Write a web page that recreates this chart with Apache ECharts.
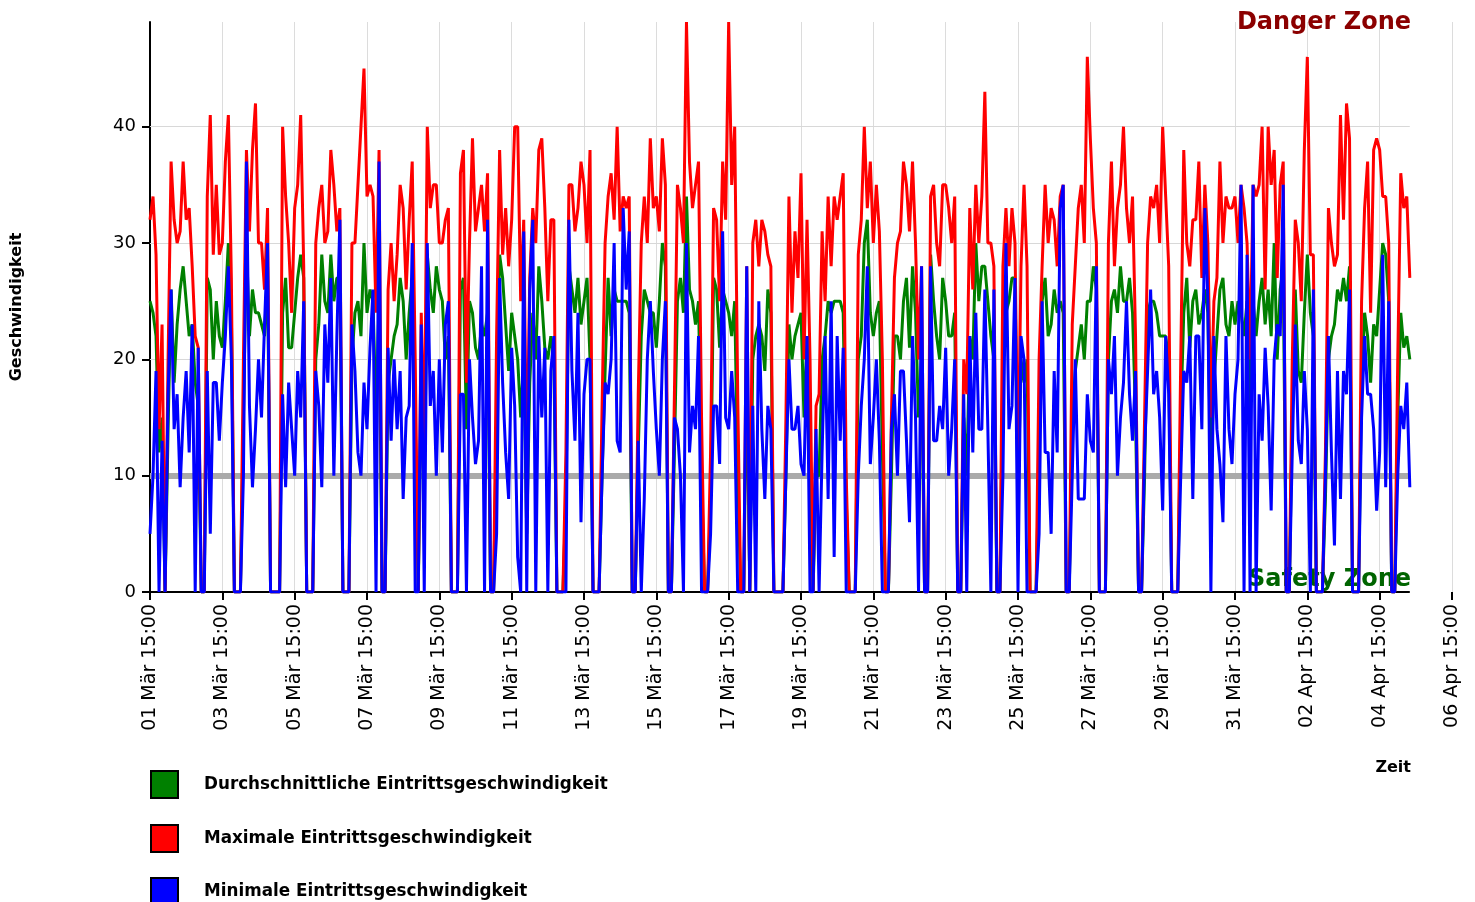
<!DOCTYPE html>
<html><head><meta charset="utf-8">
<script src="https://cdn.jsdelivr.net/npm/echarts@6/dist/echarts.min.js"></script>
<style>html,body{margin:0;padding:0;background:#fff}#chart{width:1475px;height:902px}</style>
</head><body><div id="chart"></div>
<script>
// Time axis: hours since 01 Mär 15:00, one value every 2 hours
const startUTC = Date.UTC(2021, 2, 1, 15, 0);
const stepHours = 2;
const tickHours = 48;
const axisEndHours = 864;
const monthNames = ['Jan','Feb','Mär','Apr','Mai','Jun','Jul','Aug','Sep','Okt','Nov','Dez'];
const seriesNames = ['Durchschnittliche Eintrittsgeschwindigkeit','Maximale Eintrittsgeschwindigkeit','Minimale Eintrittsgeschwindigkeit'];
const yTicks = [0, 10, 20, 30, 40];
const yMax = 49;
const safetyLevel = 10;
const gridLevels = [20, 30, 40];

const avgSpeed = [
25,24,22,12,15,0,14,26,18,23,
26,28,25,22,23,18,16,0,0,27,
26,20,25,22,21,25,30,24,0,0,
0,15,30,22,26,24,24,23,22,28,
0,0,0,0,24,27,21,21,24,27,
29,27,0,0,0,20,23,29,25,24,
29,25,27,27,0,0,0,20,24,25,
22,30,24,26,25,15,25,0,0,18,
20,22,23,27,25,20,24,27,15,0,
18,8,29,26,24,28,26,25,20,22,
0,0,0,26,27,14,25,24,21,20,
23,22,24,0,0,15,29,27,23,19,
24,22,20,15,20,5,18,24,20,28,
25,21,20,22,20,0,0,0,8,28,
26,24,27,23,25,27,20,0,0,0,
10,19,27,22,26,25,25,25,25,24,
0,0,12,22,26,25,24,24,21,25,
30,28,0,0,12,25,27,24,34,26,
25,23,25,10,0,0,8,27,26,21,
26,25,24,22,25,10,0,0,20,0,
20,22,23,22,19,26,24,0,0,0,
0,10,23,20,22,23,24,15,22,12,
0,10,10,20,22,25,24,25,25,25,
24,8,0,0,0,20,22,30,32,24,
22,24,25,12,0,0,10,22,22,20,
25,27,21,28,24,15,20,0,0,29,
25,22,20,27,25,22,22,24,0,0,
15,10,22,20,30,25,28,28,25,22,
20,0,0,20,24,25,27,27,8,20,
18,20,0,0,0,12,25,27,22,23,
26,24,25,24,0,0,15,19,21,23,
20,25,25,28,26,0,0,0,20,25,
26,24,28,25,25,27,24,15,0,0,
10,24,25,25,24,22,22,22,20,0,
0,0,15,24,27,21,25,26,23,24,
26,24,10,18,22,26,27,23,22,25,
23,25,24,22,25,15,25,22,25,27,
23,26,22,30,20,26,28,0,0,15,
26,19,18,24,29,24,22,0,0,0,
8,20,22,23,26,25,27,25,28,0,
0,0,18,24,22,18,23,22,26,30,
29,25,0,0,15,24,21,22,20
];

const maxSpeed = [
32,34,29,14,23,0,20,37,32,30,
31,37,32,33,28,22,21,0,0,34,
41,29,35,29,30,37,41,27,0,0,
0,20,38,31,38,42,30,30,26,33,
0,0,0,0,40,34,30,24,33,35,
41,28,0,0,0,30,33,35,30,31,
38,35,31,33,0,0,0,30,30,35,
40,45,34,35,34,24,38,0,0,26,
30,25,29,35,33,26,32,37,20,0,
24,12,40,33,35,35,30,30,32,33,
0,0,0,36,38,18,30,39,31,33,
35,31,36,0,0,22,38,29,33,28,
32,40,40,25,32,10,27,33,30,38,
39,33,25,32,32,0,0,0,12,35,
35,31,33,37,35,30,38,0,0,0,
16,30,34,36,32,40,31,34,33,34,
0,0,17,30,34,30,39,33,34,31,
39,35,0,0,17,35,33,30,49,37,
33,35,37,15,0,0,12,33,32,25,
37,32,49,35,40,17,0,0,28,0,
30,32,28,32,31,29,28,0,0,0,
0,15,34,24,31,27,36,20,32,20,
0,16,17,31,25,34,28,34,32,34,
36,10,0,0,0,29,32,40,33,37,
30,35,31,20,0,0,15,27,30,31,
37,35,31,37,30,20,28,0,0,34,
35,30,28,35,35,33,30,34,0,0,
20,17,33,26,35,30,34,43,30,30,
28,0,0,28,33,28,33,30,10,28,
35,28,0,0,0,20,28,35,30,33,
32,28,34,35,0,0,23,28,33,35,
30,46,39,33,30,0,0,0,30,37,
28,33,35,40,33,30,34,22,0,0,
15,30,34,33,35,30,40,34,28,0,
0,0,20,38,30,28,32,32,37,27,
35,30,15,25,27,37,30,34,33,33,
34,30,35,33,30,20,35,34,35,40,
26,40,35,38,27,35,37,0,0,20,
32,30,25,38,46,29,29,0,0,0,
12,33,30,28,29,41,32,42,39,0,
0,0,25,33,37,24,38,39,38,34,
34,30,0,0,20,36,33,34,27
];

const minSpeed = [
5,10,19,0,13,0,17,26,14,17,
9,15,19,12,23,0,21,0,0,19,
5,18,18,13,18,22,28,20,0,0,
0,10,37,16,9,14,20,15,23,30,
0,0,0,0,17,9,18,14,10,19,
15,25,0,0,0,19,16,9,23,18,
27,10,22,32,0,0,0,23,19,12,
10,18,14,21,26,0,37,0,0,21,
13,20,14,19,8,15,16,30,0,0,
23,0,30,16,19,10,20,12,23,25,
0,0,0,17,17,0,20,15,11,13,
28,0,32,0,0,5,27,18,12,8,
21,16,3,0,31,0,26,32,0,22,
15,21,0,19,22,0,0,0,0,32,
19,13,24,6,17,20,20,0,0,0,
10,18,17,20,30,13,12,33,26,31,
0,0,13,0,8,20,25,19,14,10,
20,25,0,0,15,14,10,0,30,12,
16,14,22,0,0,0,5,16,16,11,
31,15,14,19,15,0,0,0,28,0,
16,0,25,14,8,16,14,0,0,0,
0,10,20,14,14,16,11,10,22,0,
0,14,0,12,22,8,25,3,22,13,
21,0,0,0,0,10,16,20,28,11,
15,20,13,0,0,0,14,17,10,19,
19,13,6,22,15,0,28,0,0,28,
13,13,16,14,21,10,14,20,0,0,
17,0,22,12,24,14,14,26,14,0,
26,0,0,10,30,14,16,27,0,22,
20,0,0,0,0,5,25,12,12,5,
19,12,33,35,0,0,10,20,8,8,
8,17,13,12,28,0,0,0,20,17,
22,10,15,18,25,17,13,19,0,0,
12,19,26,17,19,15,7,22,17,0,
0,0,10,19,18,22,8,22,22,14,
33,25,0,22,14,11,6,22,14,11,
17,20,35,0,29,0,35,0,17,13,
21,16,7,20,23,22,35,0,0,12,
23,13,11,19,14,0,26,0,0,0,
10,22,12,4,19,8,19,17,26,0,
0,0,15,22,17,17,14,7,12,29,
9,25,0,0,10,16,14,18,9
];

const FONT = 'DejaVu Sans';
const lastHour = (avgSpeed.length - 1) * stepHours;
function toPairs(arr) { return arr.map((v, i) => [i * stepHours, v]); }
function fmtTime(h) {
  const d = new Date(startUTC + h * 3600000);
  const p = n => String(n).padStart(2, '0');
  return p(d.getUTCDate()) + ' ' + monthNames[d.getUTCMonth()] + ' ' + p(d.getUTCHours()) + ':' + p(d.getUTCMinutes());
}
function hLine(v, style) {
  return [{ coord: [0, v], lineStyle: style }, { coord: [lastHour, v] }];
}

const markData = gridLevels.map(v => hLine(v, { color: '#d8d8d8', width: 1, type: 'solid' }));
markData.push(hLine(safetyLevel, { color: '#aaaaaa', width: 6, type: 'solid' }));
markData.push(hLine(0, { color: '#000000', width: 2, type: 'solid' }));

const colors = ['#008000', '#ff0000', '#0000ff'];
const values = [avgSpeed, maxSpeed, minSpeed];
const legendTops = [770, 824, 877];

const chart = echarts.init(document.getElementById('chart'), null, { renderer: 'canvas' });
chart.setOption({
  animation: false,
  backgroundColor: '#ffffff',
  textStyle: { fontFamily: FONT },
  grid: { left: 150, right: 23, top: 22, bottom: 310, containLabel: false },
  xAxis: {
    type: 'value', min: 0, max: axisEndHours, interval: tickHours,
    axisLine: { show: false },
    axisTick: { show: true, length: 8, lineStyle: { color: '#000', width: 2 } },
    axisLabel: { rotate: 90, margin: 12, color: '#000', fontSize: 19, fontFamily: FONT, formatter: fmtTime },
    splitLine: { show: true, lineStyle: { color: '#dcdcdc', width: 1 } }
  },
  yAxis: {
    type: 'value', min: 0, max: yMax, interval: 10,
    axisLine: { show: true, lineStyle: { color: '#000', width: 2 } },
    axisTick: { show: true, length: 8, customValues: yTicks, lineStyle: { color: '#000', width: 2 } },
    axisLabel: { customValues: yTicks, margin: 14, color: '#000', fontSize: 18, fontFamily: FONT },
    splitLine: { show: false }
  },
  legend: seriesNames.map((n, k) => ({
    data: [n], orient: 'vertical', left: 150, top: legendTops[k], padding: 0,
    itemWidth: 27, itemHeight: 27, icon: 'rect',
    itemStyle: { borderColor: '#000', borderWidth: 2 },
    textStyle: { color: '#000', fontSize: 16.8, fontWeight: 'bold', fontFamily: FONT, padding: [0, 0, 0, 21] },
    selectedMode: false
  })),
  graphic: [
    { type: 'text', right: 64, top: 11, style: { text: 'Danger Zone', fill: '#8b0000', font: 'bold 24px "DejaVu Sans"' } },
    { type: 'text', right: 64, top: 568, style: { text: 'Safety Zone', fill: '#006400', font: 'bold 24px "DejaVu Sans"' } },
    { type: 'text', right: 64, top: 760, style: { text: 'Zeit', fill: '#000', font: 'bold 16px "DejaVu Sans"' } },
    { type: 'text', x: 17, y: 307, rotation: Math.PI / 2, style: { text: 'Geschwindigkeit', fill: '#000', font: 'bold 16px "DejaVu Sans"', align: 'center', verticalAlign: 'middle' } }
  ],
  series: [
    {
      name: 'grid', type: 'line', data: [], z: 1, silent: true,
      markLine: { z: 1, silent: true, animation: false, symbol: ['none', 'none'], label: { show: false }, emphasis: { disabled: true }, data: markData }
    }
  ].concat(seriesNames.map((n, k) => ({
    name: n, type: 'line', data: toPairs(values[k]), z: 2,
    showSymbol: false, symbol: 'none',
    lineStyle: { color: colors[k], width: 3 },
    itemStyle: { color: colors[k] },
    emphasis: { disabled: true }
  })))
});
</script>
</body></html>
